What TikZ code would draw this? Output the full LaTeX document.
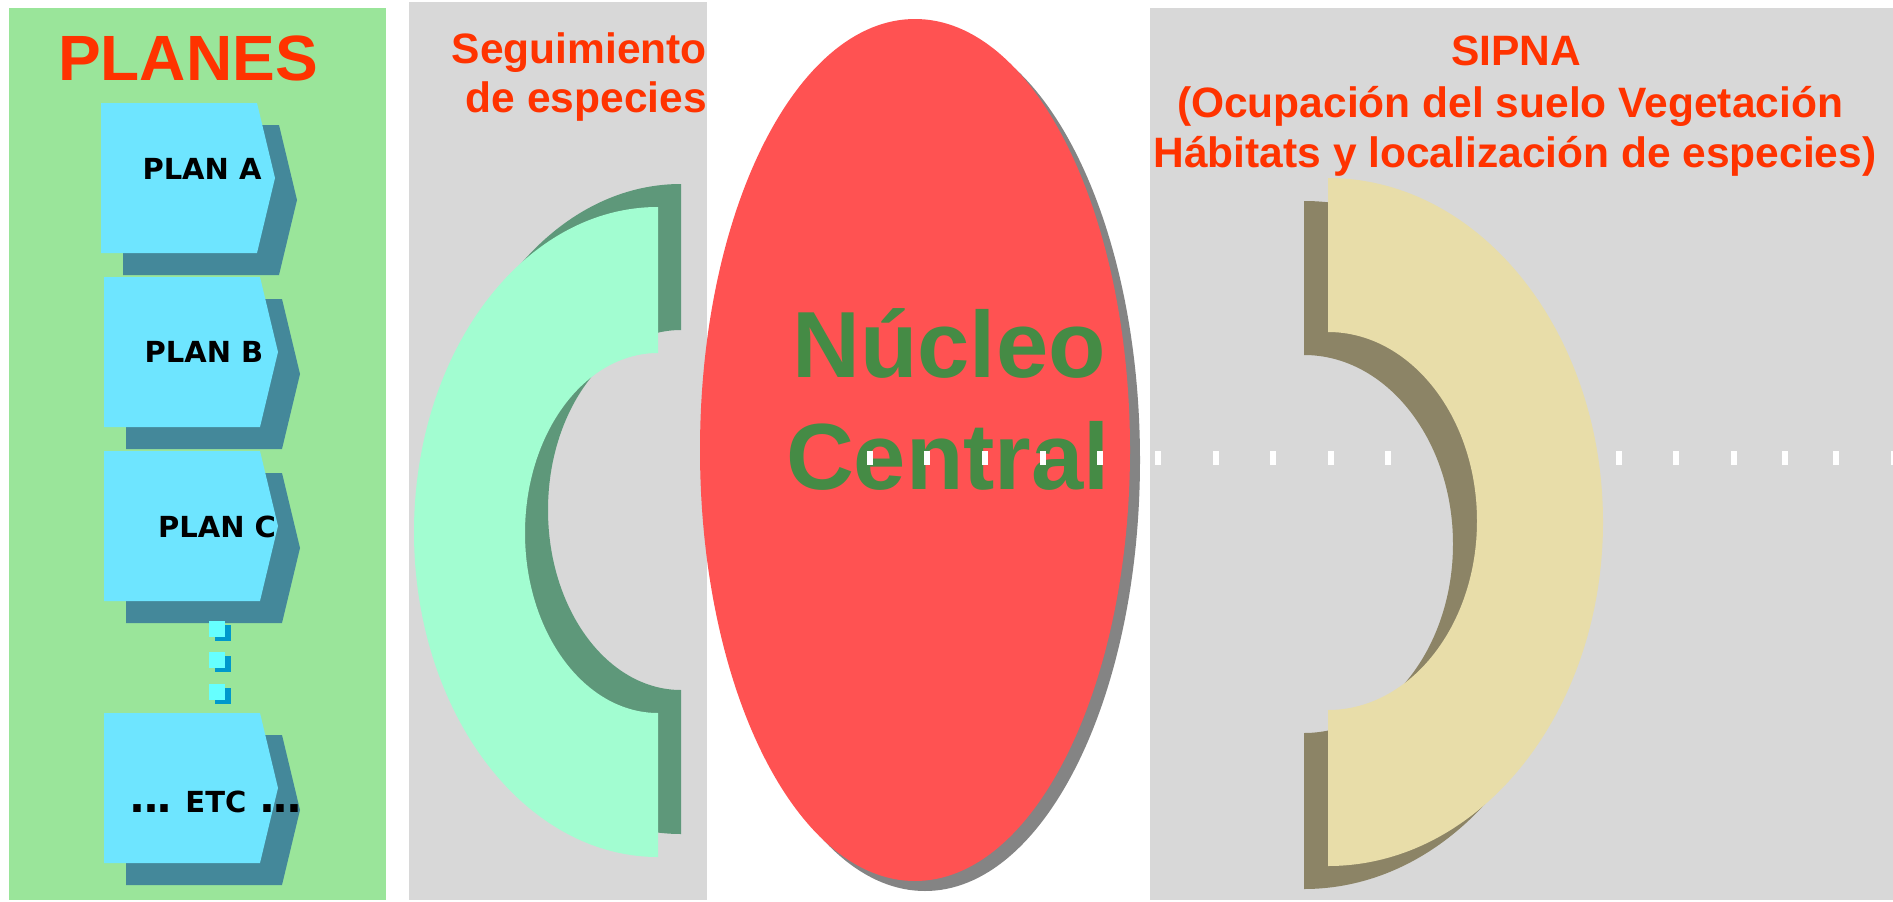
\documentclass[tikz,border=0pt]{standalone}
\usepackage{fontspec}
\setmainfont{Liberation Sans}
\newfontfamily\dejavu{DejaVu Sans}
\definecolor{panelgreen}{HTML}{9AE59A}
\definecolor{panelgray}{HTML}{D8D8D8}
\definecolor{titlered}{HTML}{FF3300}
\definecolor{planfill}{HTML}{6EE5FF}
\definecolor{planshade}{HTML}{44889A}
\definecolor{dotfill}{HTML}{66FFFF}
\definecolor{dotshade}{HTML}{0099CC}
\definecolor{cgreen}{HTML}{A2FDD1}
\definecolor{cgreenshade}{HTML}{5E987A}
\definecolor{ellred}{HTML}{FF5252}
\definecolor{ellshade}{HTML}{848484}
\definecolor{coretext}{HTML}{458B45}
\definecolor{ctan}{HTML}{E8DDA9}
\definecolor{ctanshade}{HTML}{8C8466}
\newcommand\bigdots{{\fontsize{42}{42}\selectfont.\kern-2.5pt.\kern-2.5pt.}}
\tikzset{
  planshape/.pic={
    \fill[planshade] (22,22) -- (178,22) -- (196,97) -- (178,172) -- (22,172) -- cycle;
    \fill[planfill] (0,0) -- (156,0) -- (174,75) -- (156,150) -- (0,150) -- cycle;
  },
  dotbox/.pic={
    \fill[dotshade] (6,4) rectangle (22,20);
    \fill[dotfill] (0,0) rectangle (16,16);
  },
  plantext/.style={inner sep=0pt, anchor=base, text=black, font=\dejavu\bfseries\fontsize{29}{35}\selectfont},
  headtext/.style={inner sep=0pt, text=titlered, font=\bfseries\fontsize{42.5}{51}\selectfont},
  coretxt/.style={inner sep=0pt, anchor=base, text=coretext, font=\bfseries\fontsize{94}{112}\selectfont},
  dashmark/.style={fill=white}
}
\begin{document}
\begin{tikzpicture}[x=1pt,y=-1pt]
\useasboundingbox (0,0) rectangle (1893,902);
\fill[white] (0,0) rectangle (1893,902);
% panels
\fill[panelgreen] (9,8) rectangle (386,900);
\fill[panelgray] (409,2) rectangle (707,900);
\fill[panelgray] (1150,8) rectangle (1893,900);
% plan boxes
\pic at (101,103) {planshape};
\pic at (104,277) {planshape};
\pic at (104,451) {planshape};
\pic at (209,621) {dotbox};
\pic at (209,652) {dotbox};
\pic at (209,684) {dotbox};
\pic at (104,713) {planshape};
\node[plantext] (pa) at (202,179) {PLAN A};
\node[plantext] (pb) at (204,362) {PLAN B};
\node[plantext] (pc) at (217,537) {PLAN C};
\node[plantext, anchor=base west] (pe) at (129.4,812) {\bigdots\hspace{13pt}ETC\hspace{13pt}\bigdots};
\node[inner sep=0pt, anchor=base, text=titlered, font=\bfseries\fontsize{64}{70}\selectfont] (planes) at (188,80) {PLANES};
% Seguimiento
\node[headtext, anchor=base east] (seg1) at (707,63) {Seguimiento};
\node[headtext, anchor=base east] (seg2) at (707,112) {de especies};
% green C shape
\fill[cgreenshade] (681,184) arc[start angle=270, end angle=90, x radius=244, y radius=325]
  -- (681,690) arc[start angle=90, end angle=270, x radius=133, y radius=180] -- cycle;
\fill[cgreen] (658,207) arc[start angle=270, end angle=90, x radius=244, y radius=325]
  -- (658,713) arc[start angle=90, end angle=270, x radius=133, y radius=180] -- cycle;
% central ellipse
\fill[ellshade] (925,460) ellipse[x radius=215, y radius=431];
\fill[ellred] (915,450) ellipse[x radius=215, y radius=431];
\node[coretxt] (nuc) at (949,377) {Núcleo};
\node[coretxt] (cen) at (948,489) {Central};
% dashes
\foreach \dx in {867,924,982,1040,1097,1155,1213,1270,1328,1385,1443,1500,1558,1616,1673,1731,1782,1833,1891}
  \fill[dashmark] (\dx,451) rectangle ++(6,14);
% tan C shape
\fill[ctanshade] (1304,201) arc[start angle=-90, end angle=90, x radius=275, y radius=344]
  -- (1304,733) arc[start angle=90, end angle=-90, x radius=149, y radius=189] -- cycle;
\fill[ctan] (1328,178) arc[start angle=-90, end angle=90, x radius=275, y radius=344]
  -- (1328,710) arc[start angle=90, end angle=-90, x radius=149, y radius=189] -- cycle;
% SIPNA titles
\node[headtext, anchor=base] (sip1) at (1516,65) {SIPNA};
\node[headtext, anchor=base] (sip2) at (1510,117) {(Ocupación del suelo Vegetación};
\node[headtext, anchor=base] (sip3) at (1515,167) {Hábitats y localización de especies)};
\end{tikzpicture}
\end{document}
